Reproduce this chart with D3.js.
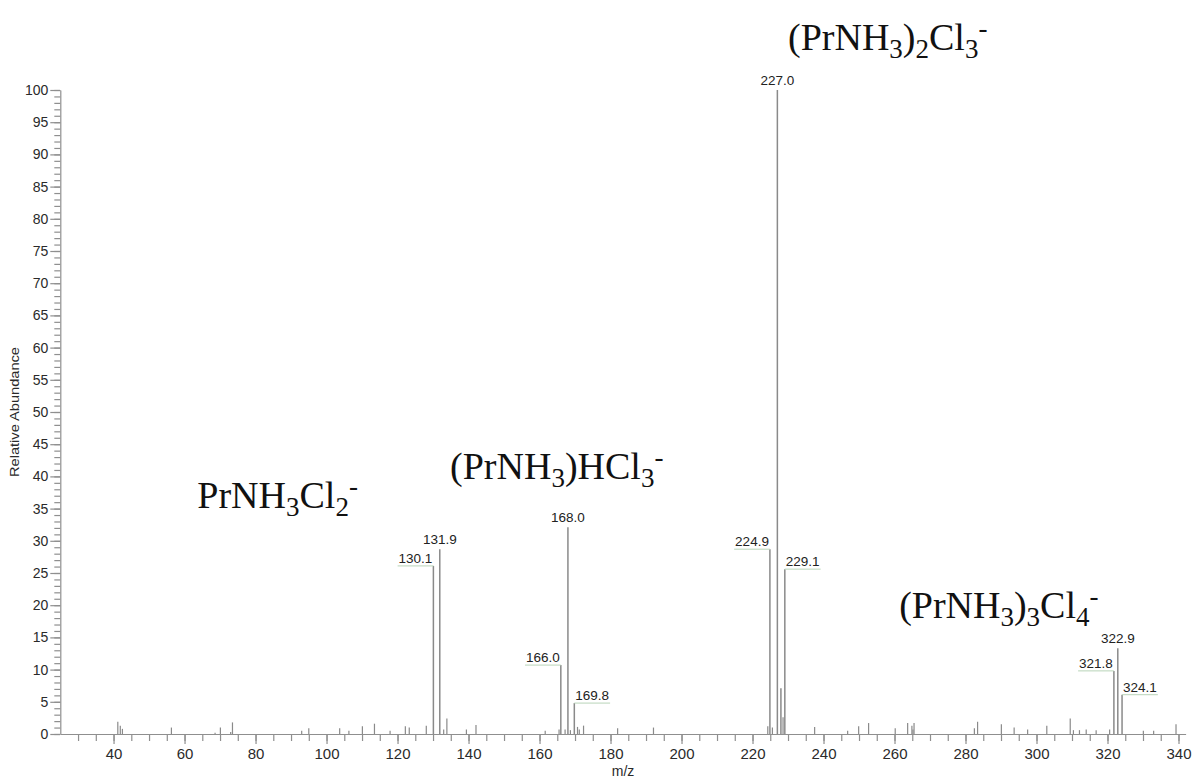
<!DOCTYPE html>
<html>
<head>
<meta charset="utf-8">
<script src="https://cdn.jsdelivr.net/npm/d3@7"></script>
<style>
  body { margin: 0; background: #fff; }
  svg { display: block; }
</style>
</head>
<body>
<svg id="chart" width="1196" height="779"></svg>
<script>
// Negative-ion mass spectrum: m/z of each centroid and its relative abundance (%)
const mz = [41.2, 41.9, 42.5, 56.3, 68.6, 70.1, 73.0, 73.5, 93.0, 95.0,
            103.7, 106.3, 110.1, 113.5, 117.9, 122.2, 123.3, 128.1, 130.1, 131.9,
            133.0, 133.9, 139.4, 142.1, 161.6, 165.5, 166.0, 167.2, 168.0, 168.7,
            169.8, 170.7, 171.2, 172.4, 182.0, 192.1, 224.3, 224.9, 225.6, 227.0,
            228.0, 228.6, 229.1, 237.5, 246.8, 249.9, 252.7, 260.2, 263.7, 264.9,
            265.2, 265.5, 282.5, 283.4, 290.1, 293.7, 297.5, 302.9, 309.5, 310.4,
            312.1, 314.0, 316.8, 320.6, 321.8, 322.9, 324.1, 330.1, 333.0, 339.3];
const abundance = [1.9, 1.3, 0.8, 1.0, 0.2, 1.0, 0.3, 1.8, 0.5, 0.9,
                   0.9, 0.5, 1.2, 1.6, 0.5, 1.2, 1.0, 1.3, 26.1, 28.7,
                   0.7, 2.4, 0.7, 1.4, 0.5, 0.7, 10.7, 0.7, 32.1, 0.6,
                   4.8, 1.1, 0.7, 1.3, 0.9, 1.0, 1.2, 28.7, 1.0, 100,
                   7.1, 2.6, 25.6, 1.1, 0.5, 1.2, 1.7, 0.9, 1.7, 1.3,
                   0.7, 1.7, 0.9, 1.9, 1.5, 1.0, 0.7, 1.3, 2.4, 0.6,
                   0.6, 0.7, 0.6, 0.7, 9.8, 13.3, 6.1, 0.5, 0.5, 1.5];

// Peaks that carry an m/z label
const labeledMz = [130.1, 131.9, 166.0, 168.0, 169.8, 224.9, 227.0, 229.1, 321.8, 322.9, 324.1];

// Axis tick values
const xMajorTicks = [40, 60, 80, 100, 120, 140, 160, 180, 200, 220, 240, 260, 280, 300, 320, 340];
const yMajorTicks = [0, 5, 10, 15, 20, 25, 30, 35, 40, 45, 50, 55, 60, 65, 70, 75, 80, 85, 90, 95, 100];

// Ion assignments (text split into normal / subscript / superscript runs)
const ionFormulas = [
  [["PrNH", ""], ["3", "sub"], ["Cl", ""], ["2", "sub"], ["-", "sup"]],
  [["(PrNH", ""], ["3", "sub"], [")HCl", ""], ["3", "sub"], ["-", "sup"]],
  [["(PrNH", ""], ["3", "sub"], [")", ""], ["2", "sub"], ["Cl", ""], ["3", "sub"], ["-", "sup"]],
  [["(PrNH", ""], ["3", "sub"], [")", ""], ["3", "sub"], ["Cl", ""], ["4", "sub"], ["-", "sup"]]
];

const peaks = mz.map((m, i) => ({ mz: m, ab: abundance[i] }));

const svg = d3.select("#chart");
const sans = "Arial, 'Liberation Sans', Helvetica, sans-serif";
const serif = "'Times New Roman', 'Liberation Serif', serif";
const axisColor = "#8f8f8f";

const x = d3.scaleLinear().domain([25, 342]).range([60.3, 1185.6]);
const y = d3.scaleLinear().domain([0, 100]).range([734, 90]);

// ---- x axis: minor ticks every 5, labelled majors every 20
const gxMinor = svg.append("g").attr("transform", `translate(0,${y(0)})`)
  .call(d3.axisBottom(x).tickValues(d3.range(30, 341, 5)).tickSize(7).tickFormat(""));
gxMinor.select(".domain").remove();

const gx = svg.append("g").attr("transform", `translate(0,${y(0)})`)
  .call(d3.axisBottom(x).tickValues(xMajorTicks).tickSize(10).tickSizeOuter(0).tickPadding(4).tickFormat(d3.format("d")));

// ---- y axis: minor ticks every 1, labelled majors every 5
const gyMinor = svg.append("g").attr("transform", `translate(${x(25)},0)`)
  .call(d3.axisLeft(y).tickValues(d3.range(0, 101, 1)).tickSize(6).tickFormat(""));
gyMinor.select(".domain").remove();

const gy = svg.append("g").attr("transform", `translate(${x(25)},0)`)
  .call(d3.axisLeft(y).tickValues(yMajorTicks).tickSize(10).tickSizeOuter(0).tickPadding(2).tickFormat(d3.format("d")));

[gx, gy, gxMinor, gyMinor].forEach(g => {
  g.selectAll("line, path").attr("stroke", axisColor).attr("stroke-width", 1.2);
  g.selectAll("text").attr("fill", "#2a2a2a").style("font-family", sans);
});
gx.selectAll("text").style("font-size", "15px");
gy.selectAll("text").style("font-size", "14px");

// axis titles
svg.append("text")
  .attr("x", 623).attr("y", 776)
  .attr("text-anchor", "middle")
  .style("font-family", sans).style("font-size", "14px").attr("fill", "#2a2a2a")
  .text("m/z");

svg.append("text")
  .attr("transform", `translate(19,${(y(0) + y(100)) / 2}) rotate(-90)`)
  .attr("text-anchor", "middle")
  .style("font-family", sans).style("font-size", "12px").attr("fill", "#2a2a2a")
  .attr("textLength", 130).attr("lengthAdjust", "spacingAndGlyphs")
  .text("Relative Abundance");

// ---- stick spectrum
svg.append("g").selectAll("line.peak")
  .data(peaks)
  .join("line")
  .attr("class", "peak")
  .attr("x1", d => x(d.mz)).attr("x2", d => x(d.mz))
  .attr("y1", y(0)).attr("y2", d => y(d.ab))
  .attr("stroke", "#8a8a8a")
  .attr("stroke-width", d => d.ab > 3 ? 1.5 : 1.2);

// ---- peak labels (centred, or offset to one side with a leader)
const labelSide = {
  130.1: "left", 131.9: "mid", 166.0: "left", 168.0: "mid", 169.8: "right",
  224.9: "left", 227.0: "mid", 229.1: "right", 321.8: "left", 322.9: "mid", 324.1: "right"
};
const labelG = svg.append("g");
peaks.filter(p => labeledMz.includes(p.mz)).forEach(p => {
  const side = labelSide[p.mz];
  const px = x(p.mz), py = y(p.ab);
  const t = labelG.append("text")
    .style("font-family", sans).style("font-size", "13.5px").attr("fill", "#222")
    .text(p.mz.toFixed(1));
  if (side === "mid") {
    t.attr("x", px).attr("y", py - 5).attr("text-anchor", "middle");
  } else {
    const w = t.node().getComputedTextLength();
    const dir = side === "left" ? -1 : 1;
    t.attr("x", px + (side === "left" ? -1 : 1)).attr("y", py - 3)
     .attr("text-anchor", side === "left" ? "end" : "start");
    labelG.append("line")
      .attr("x1", px).attr("x2", px + dir * (w + 2))
      .attr("y1", py).attr("y2", py)
      .attr("stroke", "#b8d4b8").attr("stroke-width", 1);
  }
});

// ---- ion assignments, anchored in data space (m/z, abundance)
const formulaAnchors = [
  { mz: 63.6, ab: 35.1 },
  { mz: 134.8, ab: 39.6 },
  { mz: 230.0, ab: 106.2 },
  { mz: 261.3, ab: 18.0 }
];
ionFormulas.forEach((parts, i) => {
  const a = formulaAnchors[i];
  const t = svg.append("text")
    .attr("x", x(a.mz)).attr("y", y(a.ab))
    .style("font-family", serif).style("font-size", "38px").attr("fill", "#111");
  let level = 0; // current baseline offset from the main baseline
  parts.forEach(([s, kind]) => {
    const target = kind === "sub" ? 8 : kind === "sup" ? -13 : 0;
    t.append("tspan")
      .attr("dy", target - level)
      .style("font-size", kind ? "27px" : "38px")
      .text(s);
    level = target;
  });
});
</script>
</body>
</html>
